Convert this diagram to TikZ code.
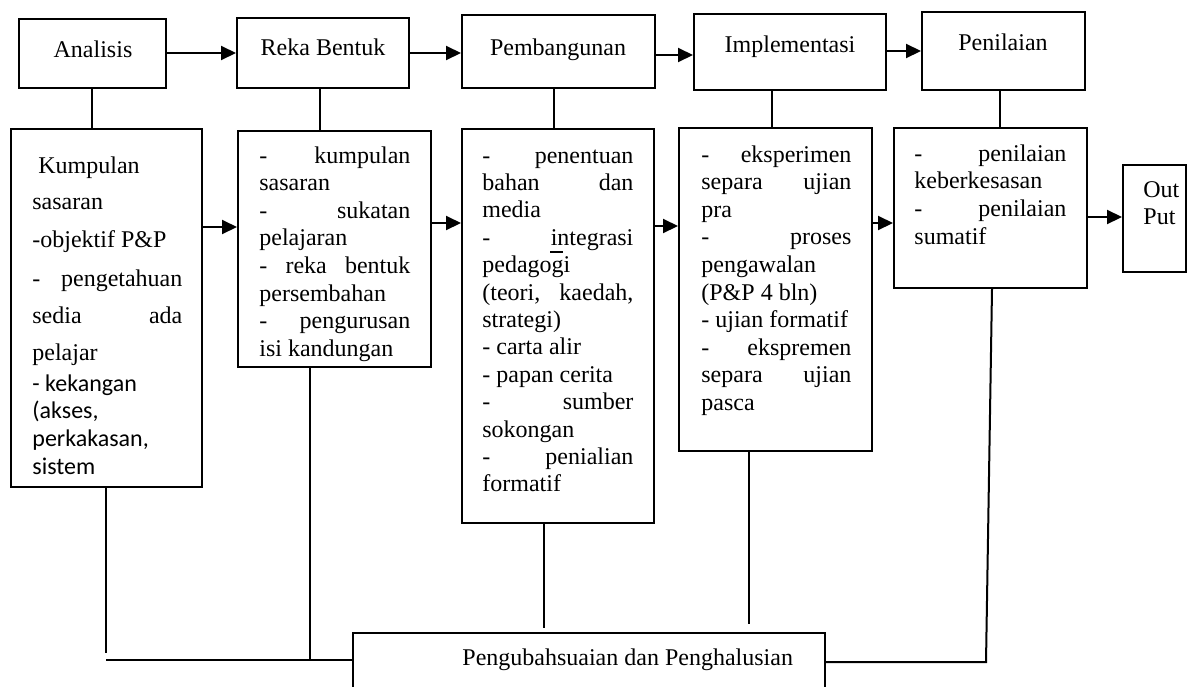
\documentclass[tikz,border=0pt]{standalone}
\usepackage{fontspec}
\setmainfont{Liberation Serif}
\newfontfamily\sansalt{Carlito}
\usetikzlibrary{arrows.meta}
\newcommand\jl[2]{\makebox[#1][s]{#2}}
\begin{document}
\begin{tikzpicture}[x=0.5pt,y=-0.5pt,
  box/.style={draw, line width=1pt, inner sep=0pt},
  txt/.style={anchor=base west, inner sep=0pt, font=\fontsize{12pt}{14pt}\selectfont},
  ctxt/.style={anchor=base, inner sep=0pt, font=\fontsize{12pt}{14pt}\selectfont},
  link/.style={line width=1pt},
  arr/.style={line width=1pt, -{Triangle[length=7.5pt,width=7pt]}}]
\useasboundingbox (0,0) rectangle (1197,686);
\clip (0,0) rectangle (1197,686);

% top row
\node[box, minimum width=73.5pt, minimum height=34.5pt] (ana) at (92.5,53.5) {};
\node[box, minimum width=86pt, minimum height=35pt] (reka) at (323,53) {};
\node[box, minimum width=96.5pt, minimum height=36.5pt] (pemb) at (558.5,51.5) {};
\node[box, minimum width=96pt, minimum height=38pt] (impl) at (790,52) {};
\node[box, minimum width=81.5pt, minimum height=39pt] (pen) at (1003.5,51) {};

\node[ctxt] (anat) at (93,57) {Analisis};
\node[ctxt] (rekat) at (323,55.5) {Reka Bentuk};
\node[ctxt] (pembt) at (558,55) {Pembangunan};
\node[ctxt] (implt) at (790,52) {Implementasi};
\node[ctxt] (pent) at (1003,50) {Penilaian};

% lower boxes
\node[box, minimum width=95.5pt, minimum height=179pt] (b1) at (106.5,308) {};
\node[box, minimum width=96.5pt, minimum height=118pt] (b2) at (334.5,249) {};
\node[box, minimum width=96pt, minimum height=197pt] (b3) at (558,326) {};
\node[box, minimum width=96.5pt, minimum height=161.5pt] (b4) at (775.5,289.5) {};
\node[box, minimum width=96.5pt, minimum height=80pt] (b5) at (990.5,208) {};
\node[box, minimum width=31.5pt, minimum height=53.5pt] (out) at (1154.5,218.5) {};
\node[box, minimum width=236pt, minimum height=38.5pt] (bot) at (589,671.5) {};

% box 1 text
\node[txt] (b1t1) at (38,173) {Kumpulan};
\node[txt] (b1t2) at (32,209) {sasaran};
\node[txt] (b1t3) at (32,247) {-objektif P\&P};
\node[txt] (b1t4) at (32,286) {\jl{75pt}{- pengetahuan}};
\node[txt] (b1t5) at (32,323) {\jl{75pt}{sedia ada}};
\node[txt] (b1t6) at (32,360) {pelajar};
\node[txt] (b1t7) at (32,391) {\sansalt - kekangan};
\node[txt] (b1t8) at (32,418) {\sansalt (akses,};
\node[txt] (b1t9) at (32,446) {\sansalt perkakasan,};
\node[txt] (b1t10) at (32,474) {\sansalt sistem};

% box 2 text
\foreach \t [count=\i] in {{\jl{75.5pt}{- kumpulan}}, sasaran, {\jl{75.5pt}{- sukatan}}, pelajaran,
  {\jl{75.5pt}{- reka bentuk}}, persembahan, {\jl{75.5pt}{- pengurusan}}, isi kandungan}
  \node[txt] (b2t\i) at (259,{163+27.6*(\i-1)}) {\t};

% box 3 text
\foreach \t [count=\i] in {{\jl{75.5pt}{- penentuan}}, {\jl{75.5pt}{bahan dan}}, media,
  {\jl{75.5pt}{- integrasi}}, pedagogi, {\jl{75.5pt}{(teori, kaedah,}}, strategi),
  - carta alir, - papan cerita, {\jl{75.5pt}{- sumber}}, sokongan,
  {\jl{75.5pt}{- penialian}}, formatif}
  \node[txt] (b3t\i) at (482,{163+27.4*(\i-1)}) {\t};
\draw[line width=0.6pt] (550,252) -- (563,252);

% box 4 text
\foreach \t [count=\i] in {{\jl{75pt}{- eksperimen}}, {\jl{75pt}{separa ujian}}, pra,
  {\jl{75pt}{- proses}}, pengawalan, {(P\&P 4 bln)}, - ujian formatif,
  {\jl{75pt}{- ekspremen}}, {\jl{75pt}{separa ujian}}, pasca}
  \node[txt] (b4t\i) at (701,{162+27.6*(\i-1)}) {\t};

% box 5 text
\foreach \t [count=\i] in {{\jl{76pt}{- penilaian}}, keberkesasan, {\jl{76pt}{- penilaian}}, sumatif}
  \node[txt] (b5t\i) at (914,{161+27.7*(\i-1)}) {\t};

\node[txt] (o1) at (1143,197) {Out};
\node[txt] (o2) at (1143,224) {Put};
\node[txt] (bott) at (462,665) {Pengubahsuaian dan Penghalusian};

% top arrows
\draw[arr] (ana.east |- 0,53) -- (reka.west |- 0,53);
\draw[arr] (reka.east |- 0,53) -- (pemb.west |- 0,53);
\draw[arr] (pemb.east |- 0,55) -- (impl.west |- 0,55);
\draw[arr] (impl.east |- 0,51) -- (pen.west |- 0,51);

% vertical links
\draw[link] (92,0 |- ana.south) -- (92,0 |- b1.north);
\draw[link] (320,0 |- reka.south) -- (320,0 |- b2.north);
\draw[link] (554,0 |- pemb.south) -- (554,0 |- b3.north);
\draw[link] (772,0 |- impl.south) -- (772,0 |- b4.north);
\draw[link] (1000,0 |- pen.south) -- (1000,0 |- b5.north);

% lower arrows
\draw[arr] (b1.east |- 0,227) -- (b2.west |- 0,227);
\draw[arr] (b2.east |- 0,223) -- (b3.west |- 0,223);
\draw[arr] (b3.east |- 0,226) -- (b4.west |- 0,226);
\draw[arr] (b4.east |- 0,223) -- (b5.west |- 0,223);
\draw[arr] (b5.east |- 0,217) -- (out.west |- 0,217);

% feedback
\coordinate (j1) at (106,653);
\coordinate (h1) at (106,660);
\coordinate (h2) at (986,662);
\draw[link] (106,0 |- b1.south) -- (j1);
\draw[link] (h1) -- (h1 -| bot.west);
\draw[link] (310,0 |- b2.south) -- (310,660);
\draw[link] (544,0 |- b3.south) -- (544,628);
\draw[link] (749,0 |- b4.south) -- (749,624);
\draw[link] (bot.east |- h2) -- (h2) -- (992,0 |- b5.south);
\end{tikzpicture}
\end{document}
